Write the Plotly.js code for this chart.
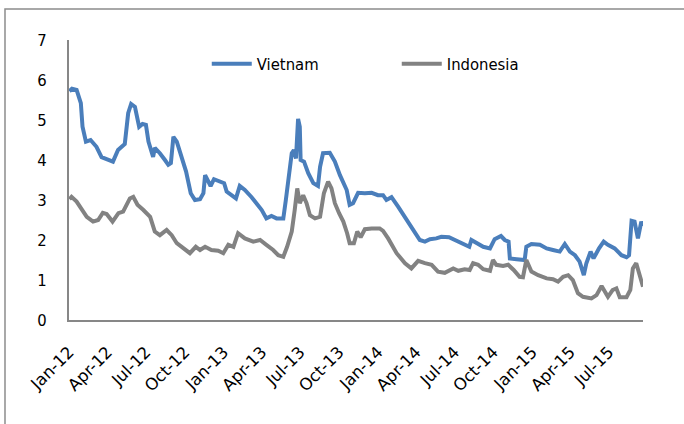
<!DOCTYPE html>
<html>
<head>
<meta charset="utf-8">
<script src="https://cdn.plot.ly/plotly-3.0.1.min.js"></script>
<style>html,body{margin:0;padding:0;background:#fff;}#chart{width:684px;height:424px;}</style>
</head>
<body>
<div id="chart"></div>
<script>
var vietnamDates = ['2012-01-02','2012-01-08','2012-01-19','2012-01-23','2012-01-29','2012-02-02','2012-02-10','2012-02-21','2012-03-06','2012-03-18','2012-04-02','2012-04-14','2012-04-26','2012-05-12','2012-05-20','2012-05-27','2012-06-05','2012-06-15','2012-06-23','2012-07-01','2012-07-07','2012-07-18','2012-07-22','2012-08-03','2012-08-15','2012-08-23','2012-08-29','2012-09-04','2012-09-12','2012-09-23','2012-10-04','2012-10-15','2012-10-25','2012-11-06','2012-11-14','2012-11-18','2012-11-25','2012-12-01','2012-12-09','2012-12-23','2013-01-02','2013-01-08','2013-01-24','2013-01-30','2013-02-08','2013-02-20','2013-03-08','2013-03-20','2013-04-01','2013-04-12','2013-04-24','2013-05-06','2013-05-22','2013-05-28','2013-06-03','2013-06-11','2013-06-16','2013-06-21','2013-06-26','2013-06-30','2013-07-02','2013-07-10','2013-07-20','2013-08-01','2013-08-12','2013-08-17','2013-08-24','2013-09-09','2013-09-21','2013-10-03','2013-10-19','2013-10-26','2013-11-03','2013-11-15','2013-12-01','2013-12-17','2014-01-01','2014-01-13','2014-01-21','2014-02-02','2014-02-18','2014-03-10','2014-03-29','2014-04-10','2014-04-22','2014-05-04','2014-05-19','2014-05-31','2014-06-18','2014-07-06','2014-07-25','2014-08-05','2014-08-10','2014-08-22','2014-09-07','2014-09-23','2014-10-04','2014-10-19','2014-10-28','2014-11-06','2014-11-09','2014-11-25','2014-12-14','2014-12-18','2014-12-30','2015-01-19','2015-02-04','2015-02-19','2015-03-07','2015-03-19','2015-03-31','2015-04-12','2015-04-23','2015-05-03','2015-05-09','2015-05-19','2015-05-26','2015-06-08','2015-06-19','2015-06-29','2015-07-15','2015-07-31','2015-08-12','2015-08-18','2015-08-24','2015-08-31','2015-09-08','2015-09-16','2015-09-19'];
var vietnamValues = [5.72,5.78,5.75,5.6,5.42,4.83,4.46,4.5,4.33,4.07,4.02,3.96,4.25,4.4,5.17,5.4,5.33,4.83,4.9,4.88,4.46,4.08,4.3,4.17,4.0,3.88,3.92,4.58,4.46,4.08,3.71,3.17,3.0,3.02,3.17,3.62,3.5,3.35,3.52,3.46,3.42,3.21,3.08,3.04,3.35,3.25,3.07,2.92,2.75,2.54,2.6,2.54,2.54,3.0,3.58,4.17,4.25,4.04,5.03,4.83,4.0,3.96,3.67,3.42,3.35,3.83,4.17,4.18,3.96,3.62,3.25,2.88,2.92,3.18,3.17,3.18,3.12,3.12,3.0,3.07,2.83,2.5,2.17,2.0,1.96,2.02,2.04,2.08,2.07,1.98,1.88,1.83,2.0,1.92,1.83,1.79,2.02,2.1,2.0,1.96,1.54,1.52,1.5,1.83,1.9,1.88,1.79,1.75,1.71,1.9,1.71,1.62,1.46,1.12,1.42,1.71,1.54,1.79,1.96,1.88,1.79,1.62,1.57,1.62,2.48,2.46,2.04,2.46,2.35];

var indonesiaDates = ['2012-01-02','2012-01-07','2012-01-19','2012-01-31','2012-02-12','2012-02-27','2012-03-10','2012-03-21','2012-03-30','2012-04-13','2012-04-27','2012-05-08','2012-05-24','2012-06-01','2012-06-11','2012-06-25','2012-07-11','2012-07-22','2012-08-03','2012-08-19','2012-08-31','2012-09-12','2012-09-27','2012-10-13','2012-10-27','2012-11-06','2012-11-18','2012-12-03','2012-12-19','2012-12-31','2013-01-12','2013-01-24','2013-02-04','2013-02-20','2013-03-12','2013-03-28','2013-04-12','2013-04-28','2013-05-10','2013-05-22','2013-05-31','2013-06-11','2013-06-18','2013-06-24','2013-06-30','2013-07-08','2013-07-16','2013-07-24','2013-08-05','2013-08-17','2013-08-26','2013-09-05','2013-09-13','2013-09-21','2013-10-01','2013-10-11','2013-10-20','2013-10-26','2013-11-05','2013-11-13','2013-11-21','2013-12-01','2013-12-17','2014-01-05','2014-01-13','2014-01-25','2014-02-14','2014-03-06','2014-03-21','2014-04-06','2014-04-22','2014-05-08','2014-05-23','2014-06-08','2014-06-28','2014-07-10','2014-07-25','2014-08-06','2014-08-14','2014-08-26','2014-09-07','2014-09-23','2014-09-30','2014-10-08','2014-10-24','2014-11-05','2014-11-18','2014-12-02','2014-12-10','2014-12-18','2014-12-30','2015-01-15','2015-02-04','2015-02-19','2015-03-03','2015-03-15','2015-03-27','2015-04-07','2015-04-19','2015-05-01','2015-05-21','2015-06-02','2015-06-14','2015-06-21','2015-06-29','2015-07-10','2015-07-19','2015-07-27','2015-08-12','2015-08-21','2015-08-27','2015-09-04','2015-09-12','2015-09-20'];
var indonesiaValues = [3.02,3.08,2.96,2.75,2.58,2.46,2.5,2.68,2.65,2.46,2.67,2.71,3.04,3.08,2.88,2.75,2.58,2.21,2.12,2.25,2.12,1.92,1.79,1.67,1.83,1.75,1.83,1.75,1.73,1.67,1.88,1.83,2.17,2.04,1.96,2.0,1.88,1.75,1.62,1.58,1.83,2.21,2.75,3.29,2.92,3.12,2.92,2.62,2.54,2.58,3.17,3.46,3.29,2.92,2.67,2.46,2.17,1.92,1.92,2.21,2.07,2.27,2.29,2.29,2.23,2.04,1.67,1.42,1.29,1.48,1.42,1.38,1.21,1.18,1.29,1.23,1.27,1.25,1.42,1.38,1.27,1.23,1.5,1.38,1.35,1.38,1.25,1.08,1.07,1.5,1.21,1.12,1.04,1.02,0.96,1.08,1.12,1.0,0.67,0.58,0.54,0.62,0.85,0.71,0.58,0.75,0.79,0.57,0.57,0.75,1.29,1.42,1.12,0.83];

var tickDates = ['2012-01-01','2012-04-01','2012-07-01','2012-10-01','2013-01-01','2013-04-01','2013-07-01','2013-10-01','2014-01-01','2014-04-01','2014-07-01','2014-10-01','2015-01-01','2015-04-01','2015-07-01'];
var tickLabels = ['Jan-12','Apr-12','Jul-12','Oct-12','Jan-13','Apr-13','Jul-13','Oct-13','Jan-14','Apr-14','Jul-14','Oct-14','Jan-15','Apr-15','Jul-15'];
var yTicks = [0,1,2,3,4,5,6,7];

var FONT = "Tahoma, 'DejaVu Sans Condensed', 'DejaVu Sans', sans-serif";
var XFONT = "Tahoma, 'DejaVu Sans', sans-serif";

var traces = [
  {x: vietnamDates, y: vietnamValues, name: 'Vietnam', type: 'scatter', mode: 'lines',
   line: {color: '#4a7ebb', width: 4}},
  {x: indonesiaDates, y: indonesiaValues, name: 'Indonesia', type: 'scatter', mode: 'lines',
   line: {color: '#828282', width: 4}}
];

var layout = {
  width: 684, height: 424,
  margin: {l: 69, r: 41, t: 40, b: 104},
  paper_bgcolor: '#ffffff', plot_bgcolor: '#ffffff',
  font: {family: FONT, size: 15, color: '#000000'},
  showlegend: true,
  legend: {orientation: 'h', x: 0.24, xanchor: 'left', y: 0.914, yanchor: 'middle',
           font: {family: FONT, size: 16.5, color: '#000'}, bgcolor: 'rgba(0,0,0,0)',
           entrywidth: 135, itemwidth: 40},
  xaxis: {type: 'date', range: ['2012-01-01', '2015-09-20'], tickvals: tickDates, ticktext: tickLabels,
          tickangle: -45, showgrid: false, zeroline: false, showline: true, linecolor: '#878787', linewidth: 2,
          ticks: '', ticklabelstandoff: 14, tickfont: {family: XFONT, size: 16.5, color: '#000'}},
  yaxis: {range: [0, 7], tickvals: yTicks, showgrid: false, zeroline: false, showline: true,
          linecolor: '#878787', linewidth: 2, ticks: '', ticklabelstandoff: 17,
          tickfont: {family: FONT, size: 16.5, color: '#000'}},
  shapes: [
    {type: 'rect', xref: 'paper', yref: 'paper', x0: -0.1115, x1: 1.2, y0: -0.5, y1: 1.1107,
     line: {color: '#8c8c8c', width: 1.5}, fillcolor: 'rgba(0,0,0,0)', layer: 'below'}
  ]
};

Plotly.newPlot('chart', traces, layout, {displayModeBar: false, staticPlot: true});
</script>
</body>
</html>
